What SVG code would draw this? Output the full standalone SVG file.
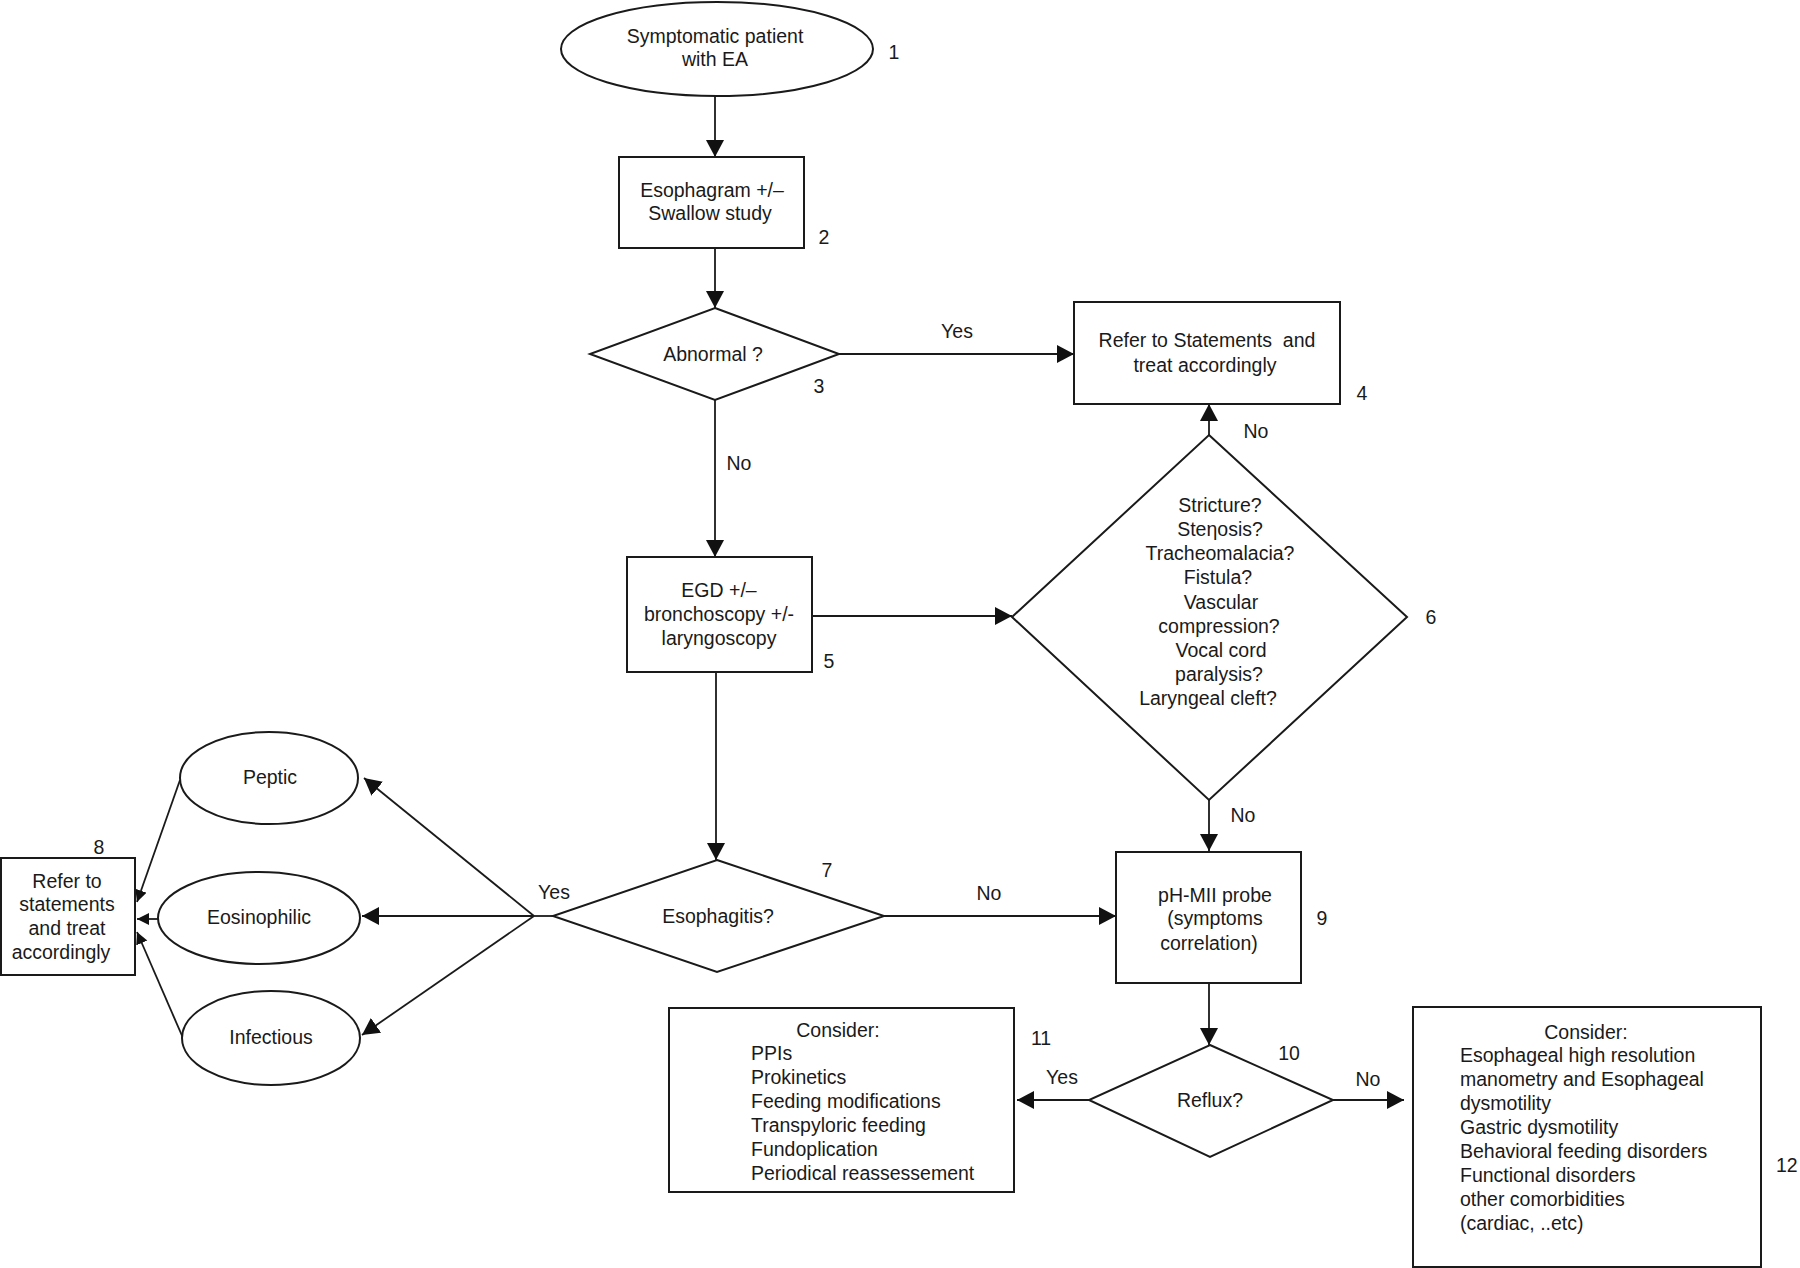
<svg xmlns="http://www.w3.org/2000/svg" width="1800" height="1268" viewBox="0 0 1800 1268">
<defs>
<marker id="arr" markerUnits="userSpaceOnUse" markerWidth="18" markerHeight="20" refX="17" refY="9" orient="auto"><path d="M0,0 L17,9 L0,18 z" fill="#111"/></marker>
<marker id="arrs" markerUnits="userSpaceOnUse" markerWidth="14" markerHeight="14" refX="12" refY="6" orient="auto"><path d="M0,0 L12,6 L0,12 z" fill="#111"/></marker>
</defs>
<style>
text{font-family:"Liberation Sans",Arial,sans-serif;font-size:19.5px;fill:#1a1a1a}
.c{text-anchor:middle}
.s{fill:#fff;stroke:#1a1a1a;stroke-width:2}
.l{fill:none;stroke:#1a1a1a;stroke-width:1.8}
.a{marker-end:url(#arr)}
.as{marker-end:url(#arrs)}
</style>
<rect width="1800" height="1268" fill="#fff"/>
<g id="connectors">
<path class="l a" d="M715,96 V157"/>
<path class="l a" d="M715,248 V308"/>
<path class="l a" d="M839,354 H1074"/>
<path class="l a" d="M715,400 V557"/>
<path class="l a" d="M812,616 H1012"/>
<path class="l a" d="M1209,435 V404"/>
<path class="l a" d="M1209,800 V851"/>
<path class="l a" d="M716,672 V860"/>
<path class="l a" d="M884,916 H1116"/>
<path class="l" d="M553,916 H534"/>
<path class="l a" d="M534,916 H362"/>
<path class="l a" d="M534,916 L364,778"/>
<path class="l a" d="M534,916 L362,1035"/>
<path class="l as" d="M180,780 L137,902"/>
<path class="l as" d="M159,919 H137"/>
<path class="l as" d="M183,1038 L137,932"/>
<path class="l a" d="M1209,983 V1045"/>
<path class="l a" d="M1089,1100 H1017"/>
<path class="l a" d="M1333,1100 H1404"/>
<text x="957" y="338" class="c">Yes</text>
<text x="739" y="470" class="c">No</text>
<text x="1256" y="438" class="c">No</text>
<text x="1243" y="822" class="c">No</text>
<text x="989" y="900" class="c">No</text>
<text x="554" y="899" class="c">Yes</text>
<text x="1062" y="1084" class="c">Yes</text>
<text x="1368" y="1086" class="c">No</text>
</g>
<g id="n1">
<ellipse class="s" cx="717" cy="49" rx="156" ry="47"/>
<text x="715" y="43" class="c">Symptomatic patient</text>
<text x="715" y="66" class="c">with EA</text>
<text x="894" y="59" class="c">1</text>
</g>
<g id="n2">
<rect class="s" x="619" y="157" width="185" height="91"/>
<text x="712" y="197" class="c">Esophagram +/–</text>
<text x="710" y="220" class="c">Swallow study</text>
<text x="824" y="244" class="c">2</text>
</g>
<g id="n3">
<path class="s" d="M715,308 L839,354 L715,400 L590,354 z"/>
<text x="713" y="361" class="c">Abnormal ?</text>
<text x="819" y="393" class="c">3</text>
</g>
<g id="n4">
<rect class="s" x="1074" y="302" width="266" height="102"/>
<text x="1207" y="347" class="c" xml:space="preserve">Refer to Statements  and</text>
<text x="1205" y="372" class="c">treat accordingly</text>
<text x="1362" y="400" class="c">4</text>
</g>
<g id="n5">
<rect class="s" x="627" y="557" width="185" height="115"/>
<text x="719" y="597" class="c">EGD +/–</text>
<text x="719" y="621" class="c">bronchoscopy +/-</text>
<text x="719" y="645" class="c">laryngoscopy</text>
<text x="829" y="668" class="c">5</text>
</g>
<g id="n6">
<path class="s" d="M1209,435 L1407,617 L1209,800 L1012,617 z"/>
<text x="1220" y="512" class="c">Stricture?</text>
<text x="1220" y="536" class="c">Steηosis?</text>
<text x="1220" y="560" class="c">Tracheomalacia?</text>
<text x="1218" y="584" class="c">Fistula?</text>
<text x="1221" y="609" class="c">Vascular</text>
<text x="1219" y="633" class="c">compression?</text>
<text x="1221" y="657" class="c">Vocal cord</text>
<text x="1219" y="681" class="c">paralysis?</text>
<text x="1208" y="705" class="c">Laryngeal cleft?</text>
<text x="1431" y="624" class="c">6</text>
</g>
<g id="n7">
<path class="s" d="M717,860 L884,916 L717,972 L553,916 z"/>
<text x="718" y="923" class="c">Esophagitis?</text>
<text x="827" y="877" class="c">7</text>
</g>
<g id="n8">
<rect class="s" x="1" y="858" width="134" height="117"/>
<text x="67" y="888" class="c">Refer to</text>
<text x="67" y="911" class="c">statements</text>
<text x="67" y="935" class="c">and treat</text>
<text x="61" y="959" class="c">accordingly</text>
<text x="99" y="854" class="c">8</text>
</g>
<g id="peptic">
<ellipse class="s" cx="269" cy="778" rx="89" ry="46"/>
<text x="270" y="784" class="c">Peptic</text>
</g>
<g id="eosinophilic">
<ellipse class="s" cx="259" cy="918" rx="101" ry="46"/>
<text x="259" y="924" class="c">Eosinophilic</text>
</g>
<g id="infectious">
<ellipse class="s" cx="271" cy="1038" rx="89" ry="47"/>
<text x="271" y="1044" class="c">Infectious</text>
</g>
<g id="n9">
<rect class="s" x="1116" y="852" width="185" height="131"/>
<text x="1215" y="902" class="c">pH-MII probe</text>
<text x="1215" y="925" class="c">(symptoms</text>
<text x="1209" y="950" class="c">correlation)</text>
<text x="1322" y="925" class="c">9</text>
</g>
<g id="n10">
<path class="s" d="M1210,1045 L1333,1100 L1210,1157 L1089,1100 z"/>
<text x="1210" y="1107" class="c">Reflux?</text>
<text x="1289" y="1060" class="c">10</text>
</g>
<g id="n11">
<rect class="s" x="669" y="1008" width="345" height="184"/>
<text x="838" y="1037" class="c">Consider:</text>
<text x="751" y="1060">PPIs</text>
<text x="751" y="1084">Prokinetics</text>
<text x="751" y="1108">Feeding modifications</text>
<text x="751" y="1132">Transpyloric feeding</text>
<text x="751" y="1156">Fundoplication</text>
<text x="751" y="1180">Periodical reassessement</text>
<text x="1041" y="1045" class="c">11</text>
</g>
<g id="n12">
<rect class="s" x="1413" y="1007" width="348" height="260"/>
<text x="1586" y="1039" class="c">Consider:</text>
<text x="1460" y="1062">Esophageal high resolution</text>
<text x="1460" y="1086">manometry and Esophageal</text>
<text x="1460" y="1110">dysmotility</text>
<text x="1460" y="1134">Gastric dysmotility</text>
<text x="1460" y="1158">Behavioral feeding disorders</text>
<text x="1460" y="1182">Functional disorders</text>
<text x="1460" y="1206">other comorbidities</text>
<text x="1460" y="1230">(cardiac, ..etc)</text>
<text x="1776" y="1172">12</text>
</g>
</svg>
